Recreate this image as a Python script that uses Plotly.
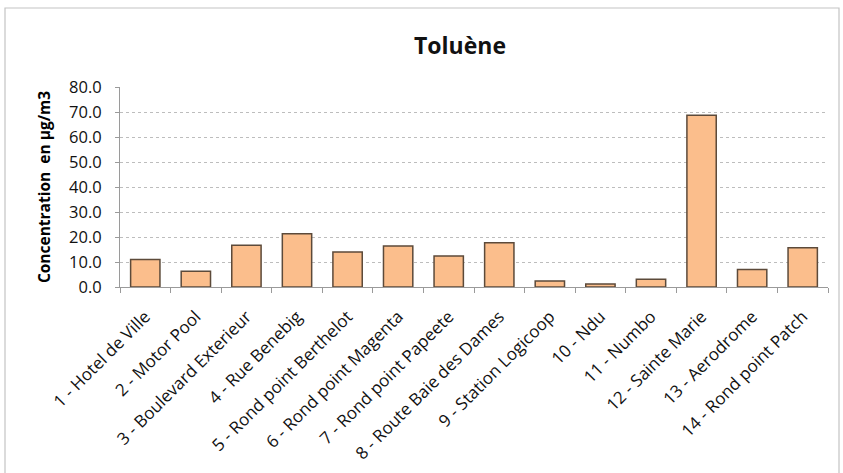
import plotly.graph_objects as go

categories = [
    "1 - Hotel de Ville", "2 - Motor Pool", "3 - Boulevard Exterieur", "4 - Rue Benebig",
    "5 - Rond point Berthelot", "6 - Rond point Magenta", "7 - Rond point Papeete",
    "8 - Route Baie des Dames", "9 - Station Logicoop", "10 - Ndu", "11 - Numbo",
    "12 - Sainte Marie", "13 - Aerodrome", "14 - Rond point Patch",
]
toluene = [11.0, 6.3, 16.7, 21.3, 14.0, 16.4, 12.4, 17.7, 2.4, 1.2, 3.1, 68.7, 7.0, 15.7]
y_ticks = [0, 10, 20, 30, 40, 50, 60, 70, 80]

W, H = 843, 473
L, R, T, B = 120, 15, 87, 186
pw, ph = W - L - R, H - T - B

fig = go.Figure(go.Bar(
    x=categories, y=toluene,
    marker=dict(color="#FBBE8C", line=dict(color="#5C4A3A", width=1.5)),
))

def px_x(x):
    return (x - L) / pw

def px_y(y):
    return (H - B - y) / ph

fig.update_layout(
    width=W, height=H,
    margin=dict(l=L, r=R, t=T, b=B),
    paper_bgcolor="white", plot_bgcolor="white",
    bargap=0.42,
    showlegend=False,
    font=dict(family="Open Sans, Liberation Sans, sans-serif", color="#000000"),
    title=dict(text="<b>Toluène</b>", x=460 / W, xanchor="center", y=1 - 46 / H, yanchor="middle",
               font=dict(size=23, color="#111111")),
    xaxis=dict(
        type="category", tickangle=-45, tickfont=dict(size=17, color="#111111"),
        showline=True, linecolor="#9A9A9A", linewidth=1,
        ticks="outside", tickson="boundaries", ticklen=5, tickcolor="#9A9A9A",
        ticklabelstandoff=12, automargin=False,
        showgrid=False,
    ),
    yaxis=dict(
        range=[0, 80], tickvals=y_ticks, tickformat=".1f",
        tickfont=dict(size=16.5, color="#111111"),
        showline=True, linecolor="#9A9A9A", linewidth=1,
        ticks="outside", ticklen=4, tickcolor="#9A9A9A",
        ticklabelstandoff=10, automargin=False,
        showgrid=True, gridcolor="#BDBDBD", griddash="dot", gridwidth=1,
        zeroline=False,
        title=dict(text="<b>Concentration  en µg/m3</b>", font=dict(size=15.5), standoff=14),
    ),
    shapes=[dict(type="rect", xref="paper", yref="paper",
                 x0=px_x(5), x1=px_x(839), y0=px_y(490), y1=px_y(8),
                 line=dict(color="#C4C4C4", width=1.2), fillcolor="rgba(0,0,0,0)", layer="below")],
)

fig.write_html("out.html", config={"displayModeBar": False},
               post_script="document.body.style.margin='0';document.body.style.overflow='hidden';")
